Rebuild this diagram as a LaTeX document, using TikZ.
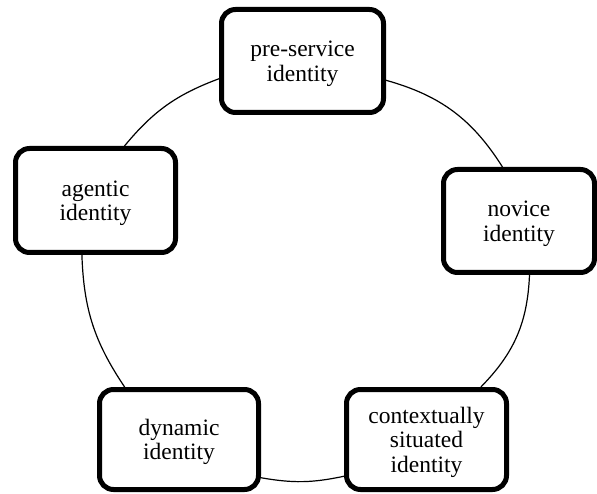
\documentclass[tikz,border=0pt]{standalone}
\usepackage{fontspec}
\setmainfont{Liberation Serif}
\newfontfamily\idserif{Liberation Serif}
\begin{document}
\begin{tikzpicture}[x=1pt,y=1pt,
  idbox/.style={draw, line width=5pt, rounded corners=14pt, fill=white,
    align=center, inner sep=0pt, text depth=-2pt,
    font=\idserif\fontsize{23.5}{24.5}\selectfont},
  ring/.style={line width=1.2pt}]
\useasboundingbox (0,0) rectangle (597,493);
\node[idbox, minimum width=162pt, minimum height=103pt] (pre) at (302.5,432) {pre-service\\identity};
\node[idbox, minimum width=151pt, minimum height=103pt] (nov) at (519,272) {novice\\identity};
\node[idbox, minimum width=160pt, minimum height=100pt] (ctx) at (426.5,53.5) {contextually\\situated\\identity};
\node[idbox, minimum width=159pt, minimum height=100pt] (dyn) at (179,53.5) {dynamic\\identity};
\node[idbox, minimum width=160pt, minimum height=104pt] (agt) at (95.5,292.5) {agentic\\identity};
\draw[ring] (pre.347) to[bend left=21] (nov.107);
\draw[ring] (nov.281) to[bend left=21] (ctx.44);
\draw[ring] (ctx.204) to[bend left=11] (dyn.335);
\draw[ring] (dyn.136) to[bend left=16] (agt.256);
\draw[ring] (agt.62) to[bend left=15] (pre.192);
\end{tikzpicture}
\end{document}
